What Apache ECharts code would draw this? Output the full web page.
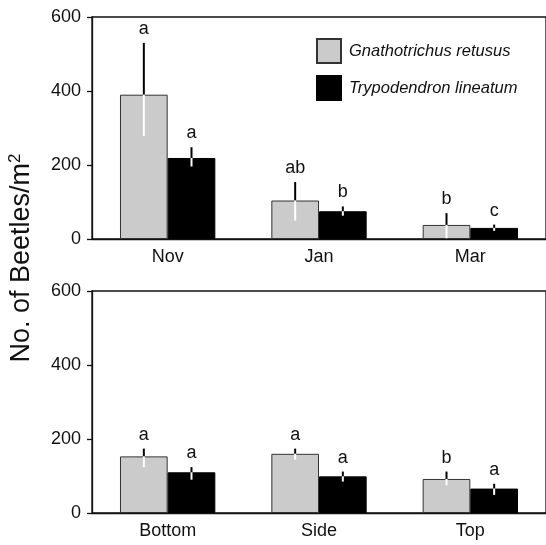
<!DOCTYPE html>
<html>
<head>
<meta charset="utf-8">
<script src="https://cdn.jsdelivr.net/npm/echarts@6/dist/echarts.min.js"></script>
<style>
  html, body { margin: 0; padding: 0; background: #fff; }
  #main { width: 546px; height: 545px; }
</style>
</head>
<body>
<div id="main"></div>
<script>
// categories
var monthCats = ['Nov', 'Jan', 'Mar'];
var positionCats = ['Bottom', 'Side', 'Top'];
var yTicks = [0, 200, 400, 600];

// Gnathotrichus retusus, by month: mean, error bar top, error bar bottom
var gnathMonth = [390, 104, 38];
var gnathMonthHi = [530, 154, 70];
var gnathMonthLo = [278, 50, 2];
var gnathMonthLetters = ['a', 'ab', 'b'];

// Trypodendron lineatum, by month
var trypoMonth = [219, 75, 30];
var trypoMonthHi = [248, 88, 39];
var trypoMonthLo = [196, 63, 22];
var trypoMonthLetters = ['a', 'b', 'c'];

// Gnathotrichus retusus, by trap position
var gnathPos = [153, 160, 92];
var gnathPosHi = [174, 174, 112];
var gnathPosLo = [124, 144, 75];
var gnathPosLetters = ['a', 'a', 'b'];

// Trypodendron lineatum, by trap position
var trypoPos = [110, 99, 66];
var trypoPosHi = [124, 112, 79];
var trypoPosLo = [90, 85, 49];
var trypoPosLetters = ['a', 'a', 'a'];

var nameG = 'Gnathotrichus retusus';
var nameT = 'Trypodendron lineatum';
var catGap = 0.37;
var font = '"Liberation Sans", Arial, sans-serif';

function errData(mean, hi, lo) {
    return mean.map(function (m, i) { return [i, m, hi[i], lo[i]]; });
}

// side: -1 for left bar, +1 for right bar
function errSeries(mean, hi, lo, letters, side, axisIdx) {
    return {
        type: 'custom',
        xAxisIndex: axisIdx,
        yAxisIndex: axisIdx,
        z: 10,
        silent: true,
        data: errData(mean, hi, lo),
        renderItem: function (params, api) {
            var idx = api.value(0);
            var c = api.coord([idx, api.value(1)]);
            var top = api.coord([idx, api.value(2)]);
            var bot = api.coord([idx, api.value(3)]);
            var band = api.size([1, 0])[0];
            var x = c[0] + side * band * (1 - catGap) / 4;
            return {
                type: 'group',
                children: [
                    {type: 'line', shape: {x1: x, y1: c[1], x2: x, y2: top[1]},
                        style: {stroke: '#000', lineWidth: 2}},
                    {type: 'line', shape: {x1: x, y1: c[1], x2: x, y2: bot[1]},
                        style: {stroke: '#fff', lineWidth: 2}},
                    {type: 'text', x: x, y: top[1] - 5,
                        style: {text: letters[params.dataIndex], fill: '#111',
                            font: '18px ' + font, textAlign: 'center', textVerticalAlign: 'bottom'}}
                ]
            };
        }
    };
}

function barSeries(name, data, axisIdx, color) {
    return {
        type: 'bar',
        name: name,
        xAxisIndex: axisIdx,
        yAxisIndex: axisIdx,
        data: data,
        barGap: '0%',
        barCategoryGap: (catGap * 100) + '%',
        silent: true,
        itemStyle: {color: color, borderColor: color === '#000' ? '#000' : '#333', borderWidth: 1}
    };
}

function xAxis(cats, gridIdx) {
    return {
        type: 'category',
        gridIndex: gridIdx,
        data: cats,
        axisLine: {lineStyle: {color: '#111', width: 1.3}},
        axisTick: {show: false},
        axisLabel: {color: '#111', fontSize: 18, fontFamily: font, margin: 9}
    };
}

function yAxis(gridIdx) {
    return {
        type: 'value',
        gridIndex: gridIdx,
        min: yTicks[0],
        max: yTicks[yTicks.length - 1],
        interval: yTicks[1] - yTicks[0],
        axisLine: {show: true, lineStyle: {color: '#111', width: 1.3}},
        axisTick: {show: true, length: 5, lineStyle: {color: '#111', width: 1.3}},
        axisLabel: {color: '#111', fontSize: 18, fontFamily: font, margin: 11},
        splitLine: {show: false}
    };
}

var chart = echarts.init(document.getElementById('main'), null, {renderer: 'canvas'});
chart.setOption({
    animation: false,
    backgroundColor: '#fff',
    grid: [
        {left: 92, top: 17, width: 460, height: 222, show: true, borderColor: '#111', borderWidth: 1.3},
        {left: 92, top: 291, width: 460, height: 222, show: true, borderColor: '#111', borderWidth: 1.3}
    ],
    legend: {
        left: 316,
        top: 38,
        padding: 0,
        orient: 'vertical',
        itemWidth: 24,
        itemHeight: 24,
        itemGap: 11,
        icon: 'rect',
        selectedMode: false,
        data: [nameG, nameT],
        textStyle: {fontSize: 16.5, fontStyle: 'italic', fontFamily: font, color: '#111', padding: [0, 0, 0, 3]}
    },
    xAxis: [xAxis(monthCats, 0), xAxis(positionCats, 1)],
    yAxis: [yAxis(0), yAxis(1)],
    graphic: [{
        type: 'text',
        x: 22,
        y: 258,
        rotation: Math.PI / 2,
        style: {
            text: 'No. of Beetles/m{sup|2}',
            font: '27px ' + font,
            fill: '#111',
            textAlign: 'center',
            textVerticalAlign: 'middle',
            rich: {sup: {fontSize: 17, fontFamily: font, verticalAlign: 'top', lineHeight: 30, fill: '#111'}}
        }
    }],
    series: [
        barSeries(nameG, gnathMonth, 0, '#cbcbcb'),
        barSeries(nameT, trypoMonth, 0, '#000'),
        barSeries(nameG, gnathPos, 1, '#cbcbcb'),
        barSeries(nameT, trypoPos, 1, '#000'),
        errSeries(gnathMonth, gnathMonthHi, gnathMonthLo, gnathMonthLetters, -1, 0),
        errSeries(trypoMonth, trypoMonthHi, trypoMonthLo, trypoMonthLetters, 1, 0),
        errSeries(gnathPos, gnathPosHi, gnathPosLo, gnathPosLetters, -1, 1),
        errSeries(trypoPos, trypoPosHi, trypoPosLo, trypoPosLetters, 1, 1)
    ]
});
</script>
</body>
</html>
